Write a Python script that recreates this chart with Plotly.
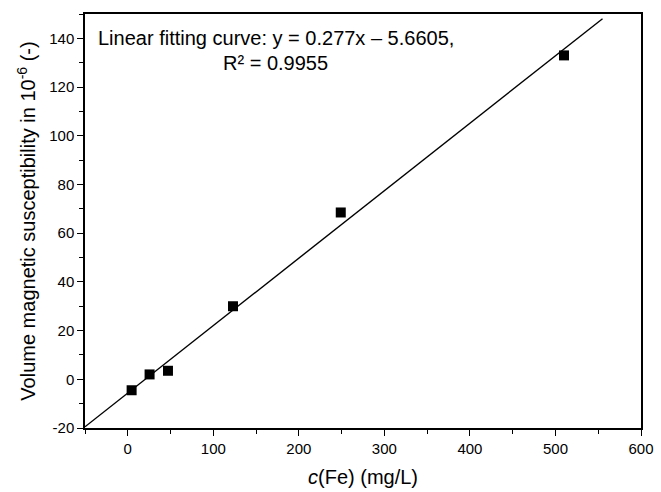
import plotly.graph_objects as go

# Data
fe_conc = [4.5, 25.5, 47, 123, 249, 510]              # c(Fe) mg/L
susceptibility = [-4.5, 2.0, 3.5, 30.0, 68.5, 133.0]  # volume magnetic susceptibility, 1e-6
fit_slope = 0.277
fit_intercept = -5.6605
fit_r2 = 0.9955
fit_x = [-50, 555]
fit_y = [fit_slope * x + fit_intercept for x in fit_x]

x_tickvals = [0, 100, 200, 300, 400, 500, 600]
x_ticktext = ["0", "100", "200", "300", "400", "500", "600"]
y_tickvals = [-20, 0, 20, 40, 60, 80, 100, 120, 140]
y_ticktext = ["-20", "0", "20", "40", "60", "80", "100", "120", "140"]

FONT = "Liberation Sans, Arial, sans-serif"

fig = go.Figure()
fig.add_trace(go.Scatter(x=fit_x, y=fit_y, mode="lines",
                         line=dict(color="black", width=1.4), showlegend=False))
fig.add_trace(go.Scatter(x=fe_conc, y=susceptibility, mode="markers",
                         marker=dict(symbol="square", size=10, color="black"),
                         showlegend=False))

fig.add_annotation(x=173, y=140, xref="x", yref="y", showarrow=False,
                   text=f"Linear fitting curve: y = {fit_slope}x – {-fit_intercept},",
                   font=dict(size=20, color="black", family=FONT))
fig.add_annotation(x=173, y=130, xref="x", yref="y", showarrow=False,
                   text=f"R² = {fit_r2}",
                   font=dict(size=20, color="black", family=FONT))

axis_common = dict(showline=True, linecolor="black", linewidth=1.5, mirror=True,
                   ticks="outside", ticklen=6, tickwidth=1.3, tickcolor="black",
                   showgrid=False, zeroline=False, automargin=False,
                   tickfont=dict(size=15, color="black", family=FONT))

fig.update_xaxes(range=[-50, 600], tickmode="array", tickvals=x_tickvals, ticktext=x_ticktext,
                 minor=dict(dtick=50, tick0=0, ticks="outside", ticklen=4, tickwidth=1.3, tickcolor="black"),
                 title=dict(text="<i>c</i>(Fe) (mg/L)", font=dict(size=20, color="black", family=FONT),
                            standoff=14),
                 **axis_common)
fig.update_yaxes(range=[-20, 150], tickmode="array", tickvals=y_tickvals, ticktext=y_ticktext,
                 minor=dict(dtick=10, tick0=0, ticks="outside", ticklen=4, tickwidth=1.3, tickcolor="black"),
                 title=dict(text="Volume magnetic susceptibility in 10<sup>-6</sup> (-)",
                            font=dict(size=20, color="black", family=FONT), standoff=8),
                 **axis_common)

fig.update_layout(width=661, height=492, margin=dict(l=85, r=20, t=14, b=64),
                  plot_bgcolor="white", paper_bgcolor="white",
                  font=dict(family=FONT, color="black"))

fig.write_html("out.html", config={"displayModeBar": False},
               post_script="document.body.style.margin='0';document.body.style.overflow='hidden';")
